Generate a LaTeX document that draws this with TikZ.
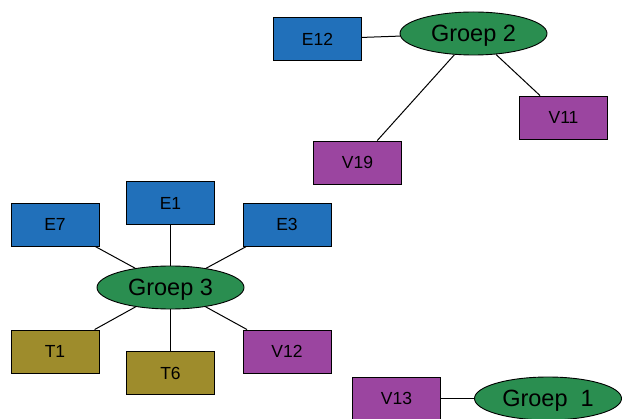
\documentclass[tikz,border=0pt]{standalone}
\usepackage{fontspec}
\setmainfont{Liberation Sans}
\usetikzlibrary{shapes.geometric}
\definecolor{eblue}{RGB}{33,112,186}
\definecolor{ggreen}{RGB}{42,142,80}
\definecolor{vpurple}{RGB}{155,69,160}
\definecolor{tolive}{RGB}{158,140,44}
\tikzset{
  item/.style={draw=black, line width=0.9pt, rectangle, minimum width=88pt,
    minimum height=43pt, inner sep=0pt, font=\fontsize{17.5}{20}\selectfont},
  ebox/.style={item, fill=eblue},
  vbox/.style={item, fill=vpurple},
  tbox/.style={item, fill=tolive},
  group/.style={draw=black, line width=0.9pt, ellipse, fill=ggreen,
    minimum width=147pt, minimum height=43pt, inner sep=0pt, text depth=0pt,
    font=\fontsize{23.5}{27}\selectfont},
  link/.style={draw=black, line width=1pt}
}
\begin{document}
\begin{tikzpicture}[x=1pt, y=-1pt]
\useasboundingbox (0,0) rectangle (623,419);
\clip (0,0) rectangle (623,419);
% group 2 cluster
\node[group] (g2) at (473.5,33.5) {Groep 2};
\node[ebox] (e12) at (317.5,39) {E12};
\node[vbox] (v11) at (563.5,117.5) {V11};
\node[vbox] (v19) at (357.5,162.5) {V19};
% group 3 cluster
\node[group] (g3) at (170.5,287.5) {Groep 3};
\node[ebox] (e1) at (170.5,203) {E1};
\node[ebox] (e7) at (55,224.5) {E7};
\node[ebox] (e3) at (287,224.5) {E3};
\node[tbox] (t1) at (55,351.5) {T1};
\node[tbox] (t6) at (170.5,373) {T6};
\node[vbox] (v12) at (287,351.5) {V12};
% group 1 cluster
\node[group] (g1) at (548,398.5) {Groep\ \ 1};
\node[vbox] (v13) at (396.5,398.5) {V13};
% connectors
\draw[link] (e12) -- (g2);
\draw[link] (g2) -- (v11);
\draw[link] (g2) -- (v19);
\draw[link] (g3) -- (e1);
\draw[link] (g3) -- (e7);
\draw[link] (g3) -- (e3);
\draw[link] (g3) -- (t1);
\draw[link] (g3) -- (t6);
\draw[link] (g3) -- (v12);
\draw[link] (v13) -- (g1);
\end{tikzpicture}
\end{document}
